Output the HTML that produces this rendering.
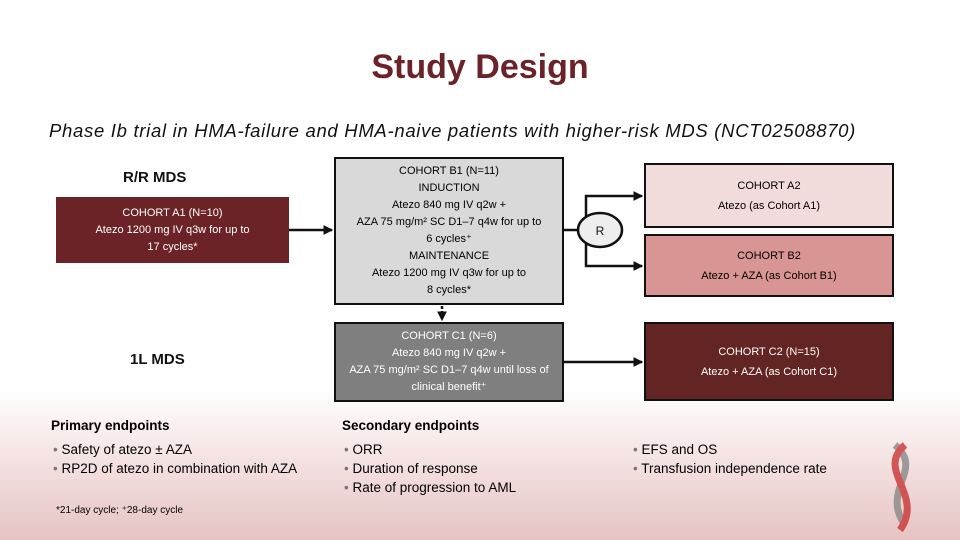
<!DOCTYPE html>
<html><head><meta charset="utf-8"><style>
body{margin:0}
#p{position:relative;width:960px;height:540px;overflow:hidden;font-family:"Liberation Sans",sans-serif;background:linear-gradient(to bottom,#fff 0,#fff 390px,#f6e6e6 450px,#e6c3c3 540px)}
.t{position:absolute;white-space:nowrap}
.box{position:absolute;box-sizing:border-box;border:2px solid #111;display:flex;flex-direction:column;justify-content:center;align-items:center;text-align:center;font-size:11px;line-height:17px}
ul{margin:0;padding:0;list-style:none}
li{font-size:13.5px;line-height:19px}
li:before{content:"• ";color:#777}
</style></head><body><div id="p">
<div class="t" style="left:0;width:960px;text-align:center;top:48px;font-size:34px;font-weight:bold;color:#6b2228">Study Design</div>
<div class="t" style="left:49px;top:120px;font-size:18.5px;letter-spacing:0.7px;font-style:italic;color:#111">Phase Ib trial in HMA-failure and HMA-naive patients with higher-risk MDS (NCT02508870)</div>
<div class="t" style="left:123px;top:169px;font-size:15px;font-weight:bold;color:#111">R/R MDS</div>
<div class="t" style="left:130px;top:351px;font-size:15px;font-weight:bold;color:#111">1L MDS</div>
<div class="box" style="left:56px;top:197px;width:233px;height:66px;background:#6b2327;color:#fff;border-color:#6b2327"><div>COHORT A1 (N=10)</div><div>Atezo 1200 mg IV q3w for up to<br>17 cycles*</div></div>
<div class="box" style="left:334px;top:157px;width:230px;height:148px;background:#d9d9d9;line-height:17px"><div>COHORT B1 (N=11)</div><div>INDUCTION</div><div>Atezo 840 mg IV q2w +<br>AZA 75 mg/m² SC D1–7 q4w for up to<br>6 cycles⁺</div><div>MAINTENANCE</div><div>Atezo 1200 mg IV q3w for up to<br>8 cycles*</div></div>
<div class="box" style="left:334px;top:322px;width:230px;height:80px;background:#7f7f7f;color:#fff"><div>COHORT C1 (N=6)</div><div>Atezo 840 mg IV q2w +<br>AZA 75 mg/m² SC D1–7 q4w until loss of<br>clinical benefit⁺</div></div>
<div class="box" style="left:644px;top:163px;width:250px;height:65px;background:#f2dcdb;line-height:20px"><div>COHORT A2</div><div>Atezo (as Cohort A1)</div></div>
<div class="box" style="left:644px;top:234px;width:250px;height:63px;background:#d99594;line-height:20px"><div>COHORT B2</div><div>Atezo + AZA (as Cohort B1)</div></div>
<div class="box" style="left:644px;top:322px;width:250px;height:79px;background:#632523;color:#fff;line-height:20px"><div>COHORT C2 (N=15)</div><div>Atezo + AZA (as Cohort C1)</div></div>
<svg width="960" height="540" style="position:absolute;left:0;top:0">
<defs><marker id="a" markerWidth="4" markerHeight="4" refX="3.5" refY="2" orient="auto"><path d="M0,0L4,2L0,4z" fill="#111"/></marker></defs>
<g stroke="#111" stroke-width="2.5" fill="none">
<line x1="289" y1="230" x2="332" y2="230" marker-end="url(#a)"/>
<line x1="564" y1="230" x2="578" y2="230"/>
<polyline points="586,218 586,196 642,196" marker-end="url(#a)"/>
<polyline points="586,242 586,266 642,266" marker-end="url(#a)"/>
<line x1="564" y1="362" x2="642" y2="362" marker-end="url(#a)"/>
<line x1="442" y1="306" x2="442" y2="320" stroke-dasharray="3,2" marker-end="url(#a)"/>
</g>
<ellipse cx="600" cy="230" rx="22" ry="17" fill="#eee" stroke="#111" stroke-width="2.5"/>
<text x="600" y="235" font-size="12" text-anchor="middle" font-family="Liberation Sans" fill="#111">R</text>
<g opacity="0.8"><path d="M895,445 C925,470 880,490 905,525" stroke="#888" stroke-width="7" fill="none"/><path d="M905,445 C875,470 925,495 900,530" stroke="#c33" stroke-width="7" fill="none"/></g>
</svg>
<div class="t" style="left:51px;top:418px;font-size:13.5px;font-weight:bold">Primary endpoints</div>
<ul class="t" style="left:53px;top:440px"><li>Safety of atezo ± AZA</li><li>RP2D of atezo in combination with AZA</li></ul>
<div class="t" style="left:342px;top:418px;font-size:13.5px;font-weight:bold">Secondary endpoints</div>
<ul class="t" style="left:344px;top:440px"><li>ORR</li><li>Duration of response</li><li>Rate of progression to AML</li></ul>
<ul class="t" style="left:633px;top:440px"><li>EFS and OS</li><li>Transfusion independence rate</li></ul>
<div class="t" style="left:56px;top:505px;font-size:10px">*21-day cycle; ⁺28-day cycle</div>
</div></body></html>
